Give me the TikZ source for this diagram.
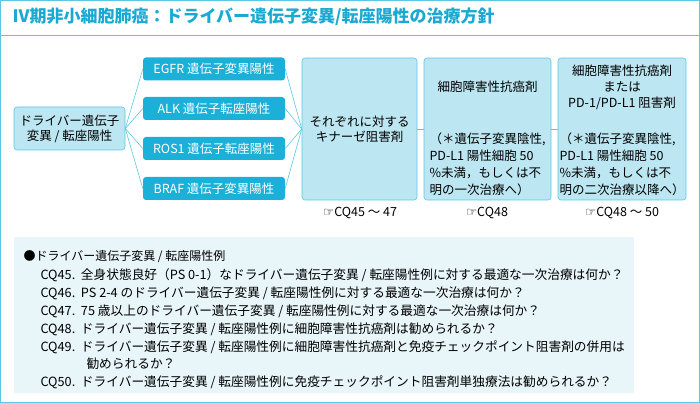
\documentclass[tikz,border=0pt]{standalone}
\usepackage{fontspec}
\setmainfont{Noto Sans CJK JP}
\newfontfamily\arrowfont{DejaVu Sans}
\usetikzlibrary{positioning}
\definecolor{frameblue}{HTML}{5BC8E2}
\definecolor{paleblue}{HTML}{BCE6F2}
\definecolor{deepblue}{HTML}{1BB0D8}
\definecolor{listbg}{HTML}{E8F5F9}
\definecolor{titleblue}{HTML}{1AA9D2}
\tikzset{
  panel/.style={draw=frameblue,fill=paleblue,rounded corners=3pt,line width=0.6pt,align=center,font=\fontsize{12.5}{15}\selectfont,inner sep=2pt},
  mutbox/.style={fill=deepblue,rounded corners=3pt,text=white,minimum width=142pt,minimum height=23pt,font=\fontsize{12.5}{14}\selectfont},
  link/.style={draw=frameblue,line width=0.6pt},
  cqref/.style={font=\fontsize{12.5}{14}\selectfont}
}
\begin{document}
\begin{tikzpicture}[x=1pt,y=-1pt]
\useasboundingbox (0,0) rectangle (700,403);
\draw[frameblue,line width=0.8pt] (0.5,0.5) rectangle (699.5,402.5);
\draw[frameblue,line width=0.8pt] (0,35) -- (700,35);
\node[anchor=west,text=titleblue,font=\fontsize{17}{19}\selectfont\bfseries] (title) at (9,17) {Ⅳ期非小細胞肺癌：ドライバー遺伝子変異/転座陽性の治療方針};
% diagram
\node[panel,minimum width=111pt,minimum height=43pt] (driver) at (69.5,128.5) {ドライバー遺伝子\\変異 / 転座陽性};
\node[mutbox] (egfr) at (214,69) {EGFR 遺伝子変異陽性};
\node[mutbox] (alk) at (214,108.5) {ALK 遺伝子転座陽性};
\node[mutbox] (ros) at (214,148.5) {ROS1 遺伝子転座陽性};
\node[mutbox] (braf) at (214,188.5) {BRAF 遺伝子変異陽性};
\node[panel,minimum width=115pt,minimum height=142pt] (tki) at (359.5,129) {それぞれに対する\\キナーゼ阻害剤};
\node[panel,minimum width=127pt,minimum height=142pt] (chemo) at (487.5,129) {};
\node[panel,minimum width=128pt,minimum height=142pt] (second) at (622,129) {};
\node[align=center,font=\fontsize{12.5}{15}\selectfont] (chemotop) at (chemo.north) [yshift=-29pt] {細胞障害性抗癌剤};
\node[align=left,font=\fontsize{12.5}{17}\selectfont] (chemonote) at (chemo.center) [yshift=-35pt] {（＊遺伝子変異陰性,\\PD-L1 陽性細胞 50\\\%未満，もしくは不\\明の一次治療へ）};
\node[align=center,font=\fontsize{12.5}{16}\selectfont] (secondtop) at (second.north) [yshift=-30pt] {細胞障害性抗癌剤\\または\\PD-1/PD-L1 阻害剤};
\node[align=left,font=\fontsize{12.5}{17}\selectfont] (secondnote) at (second.center) [yshift=-35pt] {（＊遺伝子変異陰性,\\PD-L1 陽性細胞 50\\\%未満，もしくは不\\明の二次治療以降へ）};
\foreach \m in {egfr,alk,ros,braf}{
  \draw[link] (driver.east) -- (\m.west);
  \draw[link] (\m.east) -- (tki.west);
}
\draw[link] (tki.east) -- (chemo.west);
\draw[link] (chemo.east) -- (second.west);
\node[cqref] (ref1) at (360,213) {\arrowfont ☞\rmfamily CQ45 ～ 47};
\node[cqref] (ref2) at (487,213) {\arrowfont ☞\rmfamily CQ48};
\node[cqref] (ref3) at (622,213) {\arrowfont ☞\rmfamily CQ48 ～ 50};
% list of CQs
\fill[listbg] (14,237) rectangle (634,393);
\node[anchor=west,font=\fontsize{12}{13}\selectfont] (head) at (20,257) {●ドライバー遺伝子変異 / 転座陽性例};
\begin{scope}[every node/.style={anchor=west,font=\fontsize{12.7}{14}\selectfont}]
\node (cq45) at (37,275) {CQ45.\ \ 全身状態良好（PS 0-1）なドライバー遺伝子変異 / 転座陽性例に対する最適な一次治療は何か？};
\node (cq46) at (37,293) {CQ46.\ \ PS 2-4 のドライバー遺伝子変異 / 転座陽性例に対する最適な一次治療は何か？};
\node (cq47) at (37,311) {CQ47.\ \ 75 歳以上のドライバー遺伝子変異 / 転座陽性例に対する最適な一次治療は何か？};
\node (cq48) at (37,329) {CQ48.\ \ ドライバー遺伝子変異 / 転座陽性例に細胞障害性抗癌剤は勧められるか？};
\node (cq49) at (37,347) {CQ49.\ \ ドライバー遺伝子変異 / 転座陽性例に細胞障害性抗癌剤と免疫チェックポイント阻害剤の併用は};
\node (cq49b) at (83,364) {勧められるか？};
\node (cq50) at (37,382) {CQ50.\ \ ドライバー遺伝子変異 / 転座陽性例に免疫チェックポイント阻害剤単独療法は勧められるか？};
\end{scope}
\end{tikzpicture}
\end{document}
